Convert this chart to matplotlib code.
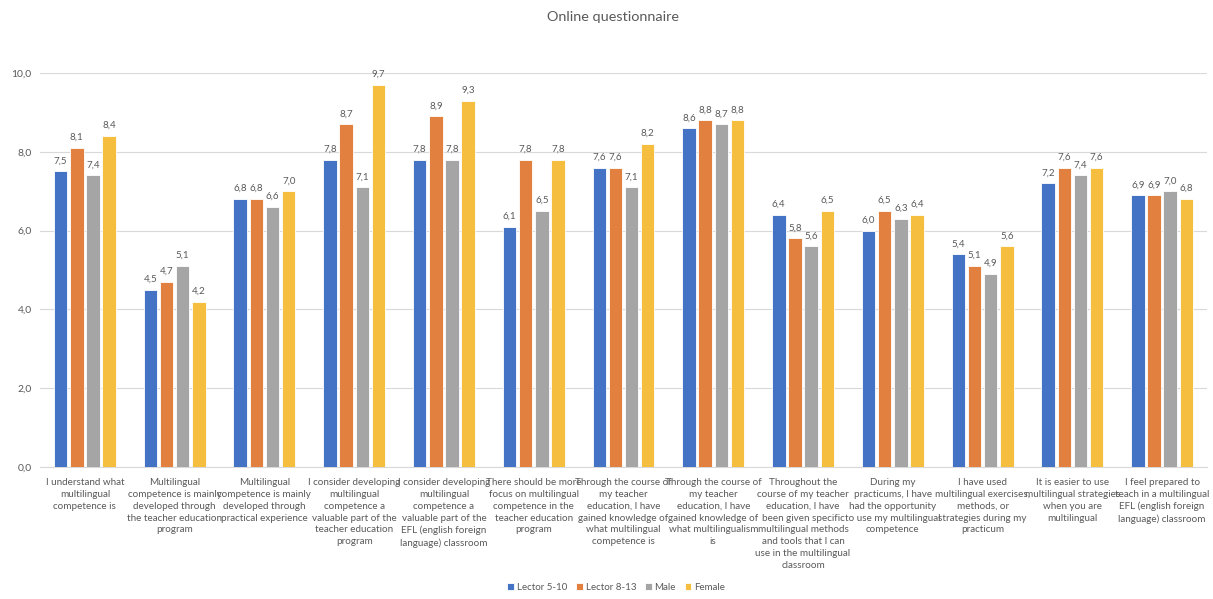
import matplotlib.pyplot as plt
import numpy as np

plt.rcParams['font.family'] = ['Lato', 'DejaVu Sans']

categories = [
    "I understand what\nmultilingual\ncompetence is",
    "Multilingual\ncompetence is mainly\ndeveloped through\nthe teacher education\nprogram",
    "Multilingual\ncompetence is mainly\ndeveloped through\npractical experience",
    "I consider developing\nmultilingual\ncompetence a\nvaluable part of the\nteacher education\nprogram",
    "I consider developing\nmultilingual\ncompetence a\nvaluable part of the\nEFL (english foreign\nlanguage) classroom",
    "There should be more\nfocus on multilingual\ncompetence in the\nteacher education\nprogram",
    "Through the course of\nmy teacher\neducation, I have\ngained knowledge of\nwhat multilingual\ncompetence is",
    "Through the course of\nmy teacher\neducation, I have\ngained knowledge of\nwhat multilingualism\nis",
    "Throughout the\ncourse of my teacher\neducation, I have\nbeen given specific\nmultilingual methods\nand tools that I can\nuse in the multilingual\nclassroom",
    "During my\npracticums, I have\nhad the opportunity\nto use my multilingual\ncompetence",
    "I have used\nmultilingual exercises,\nmethods, or\nstrategies during my\npracticum",
    "It is easier to use\nmultilingual strategies\nwhen you are\nmultilingual",
    "I feel prepared to\nteach in a multilingual\nEFL (english foreign\nlanguage) classroom",
]

lector_5_10 = [7.5, 4.5, 6.8, 7.8, 7.8, 6.1, 7.6, 8.6, 6.4, 6.0, 5.4, 7.2, 6.9]
lector_8_13 = [8.1, 4.7, 6.8, 8.7, 8.9, 7.8, 7.6, 8.8, 5.8, 6.5, 5.1, 7.6, 6.9]
male = [7.4, 5.1, 6.6, 7.1, 7.8, 6.5, 7.1, 8.7, 5.6, 6.3, 4.9, 7.4, 7.0]
female = [8.4, 4.2, 7.0, 9.7, 9.3, 7.8, 8.2, 8.8, 6.5, 6.4, 5.6, 7.6, 6.8]

series = [
    ("Lector 5-10", lector_5_10, "#4472C4"),
    ("Lector 8-13", lector_8_13, "#E2803F"),
    ("Male", male, "#A5A5A5"),
    ("Female", female, "#F6BE3E"),
]

txt = "#595959"
fig = plt.figure(figsize=(12.13, 5.99), dpi=100)
ax = fig.add_axes([40 / 1213, 1 - 467 / 599, 1167 / 1213, 394 / 599])

x = np.arange(len(categories))
step = 0.18
width = 0.15
for i, (name, vals, col) in enumerate(series):
    pos = x + (i - 1.5) * step
    bars = ax.bar(pos, vals, width, color=col, label=name, edgecolor="white", linewidth=0.6, zorder=3)
    for b, v in zip(bars, vals):
        ax.text(b.get_x() + b.get_width() / 2, v + 0.15, f"{v:.1f}".replace(".", ","),
                ha="center", va="bottom", fontsize=7, color=txt)

ax.set_xlim(-0.5, len(categories) - 0.5)
ax.set_ylim(0, 10)
ax.set_yticks(np.arange(0, 10.1, 2))
ax.set_yticklabels([f"{t:.1f}".replace(".", ",") for t in np.arange(0, 10.1, 2)], fontsize=7.5, color=txt)
ax.set_xticks(x)
ax.set_xticklabels(categories, fontsize=7.1, color=txt, linespacing=1.4, va="top")
ax.tick_params(axis="x", length=0, pad=8)
ax.tick_params(axis="y", length=0, pad=6)
ax.grid(axis="y", color="#D9D9D9", linewidth=0.8, zorder=0)
for s in ["top", "right", "left"]:
    ax.spines[s].set_visible(False)
ax.spines["bottom"].set_color("#D9D9D9")

fig.text(0.505, 1 - 17 / 599, "Online questionnaire", ha="center", va="center", fontsize=10.4, color=txt)
fig.legend(loc="center", bbox_to_anchor=(0.508, 1 - 587 / 599), ncol=4, frameon=False,
           fontsize=7, labelcolor=txt, handlelength=0.7, handleheight=0.7, handletextpad=0.3,
           columnspacing=0.9)

fig.savefig("out.png", dpi=100)
